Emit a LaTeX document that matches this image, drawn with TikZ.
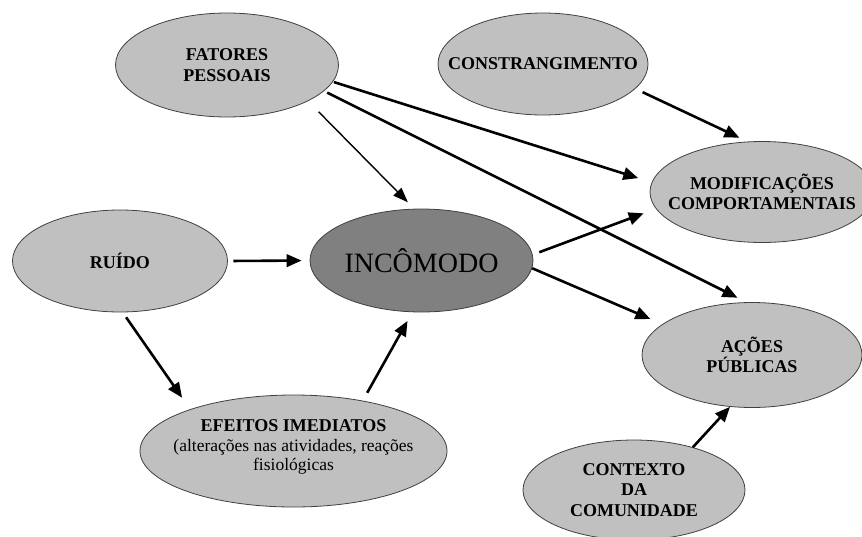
\documentclass[tikz,border=0pt]{standalone}
\usepackage{fontspec}
\setmainfont{Liberation Serif}
\usetikzlibrary{shapes.geometric,arrows.meta}
\definecolor{bubblegray}{HTML}{C0C0C0}
\definecolor{coregray}{HTML}{808080}
\begin{document}
\begin{tikzpicture}[x=1pt,y=-1pt,
  bubble/.style={ellipse, draw=black!75, line width=0.8pt, fill=bubblegray, inner sep=0pt},
  caption/.style={align=center, inner sep=0pt, text=black,
    font=\bfseries\fontsize{18}{20.5}\selectfont},
  plaincaption/.style={align=center, inner sep=0pt, text=black,
    font=\fontsize{17.5}{19.5}\selectfont},
  arr/.style={-{Triangle[length=15pt,width=12.5pt]}, line width=2.6pt},
  thinarr/.style={-{Triangle[length=15pt,width=11pt]}, line width=1.4pt}]
\useasboundingbox (0,0) rectangle (862,536);

% factors (ellipses)
\node[bubble, minimum width=223pt, minimum height=104pt,
      label={[caption]center:{FATORES\\PESSOAIS}}] (fat) at (227,65) {};
\node[bubble, minimum width=210pt, minimum height=102pt,
      label={[caption]center:{CONSTRANGIMENTO}}] (con) at (543,64) {};
\node[bubble, minimum width=224pt, minimum height=101pt,
      label={[caption]center:{MODIFICAÇÕES\\COMPORTAMENTAIS}}] (mod) at (762,192) {};
\node[bubble, minimum width=215pt, minimum height=102pt,
      label={[caption]center:{RUÍDO}}] (rui) at (120,261) {};
\node[bubble, fill=coregray, minimum width=223pt, minimum height=103pt,
      label={[plaincaption, font=\fontsize{28}{30}\selectfont]center:{INCÔMODO}}] (inc) at (421.5,260.5) {};
\node[bubble, minimum width=220pt, minimum height=105pt,
      label={[caption]center:{AÇÕES\\PÚBLICAS}}] (aco) at (752,355) {};
\node[bubble, minimum width=307pt, minimum height=112pt,
      label={[plaincaption, yshift=4pt]center:{\textbf{\fontsize{18}{19.5}\selectfont EFEITOS IMEDIATOS}\\(alterações nas atividades, reações\\fisiológicas}}] (efe) at (293.5,451) {};
\node[bubble, minimum width=222pt, minimum height=100pt,
      label={[caption]center:{CONTEXTO\\DA\\COMUNIDADE}}] (ctx) at (634,490) {};

% influences
\draw[thinarr, shorten <=15pt, shorten >=9pt] (fat.-24.8) -- (inc.98.9);
\draw[arr, shorten <=1pt, shorten >=14pt] (fat.-9.6) -- (mod.175.9);
\draw[arr, shorten <=3.5pt, shorten >=10pt] (fat.-15.1) -- (aco.96.4);
\draw[arr, shorten <=8pt, shorten >=9pt] (con.-15.8) -- (mod.106.1);
\draw[arr, shorten <=5.5pt, shorten >=8pt] (rui.0) -- (inc.180);
\draw[arr, shorten <=7pt, shorten >=13pt] (inc.3.6) -- (mod.-171.4);
\draw[arr, shorten >=13pt] (inc.-4.9) -- (aco.161.1);
\draw[arr, shorten <=6pt, shorten >=14pt] (rui.-87) -- (efe.158.8);
\draw[arr, shorten <=9pt, shorten >=10pt] (efe.36.2) -- (inc.-100.6);
\draw[arr] (ctx.36) -- (aco.-113.9);
\end{tikzpicture}
\end{document}
